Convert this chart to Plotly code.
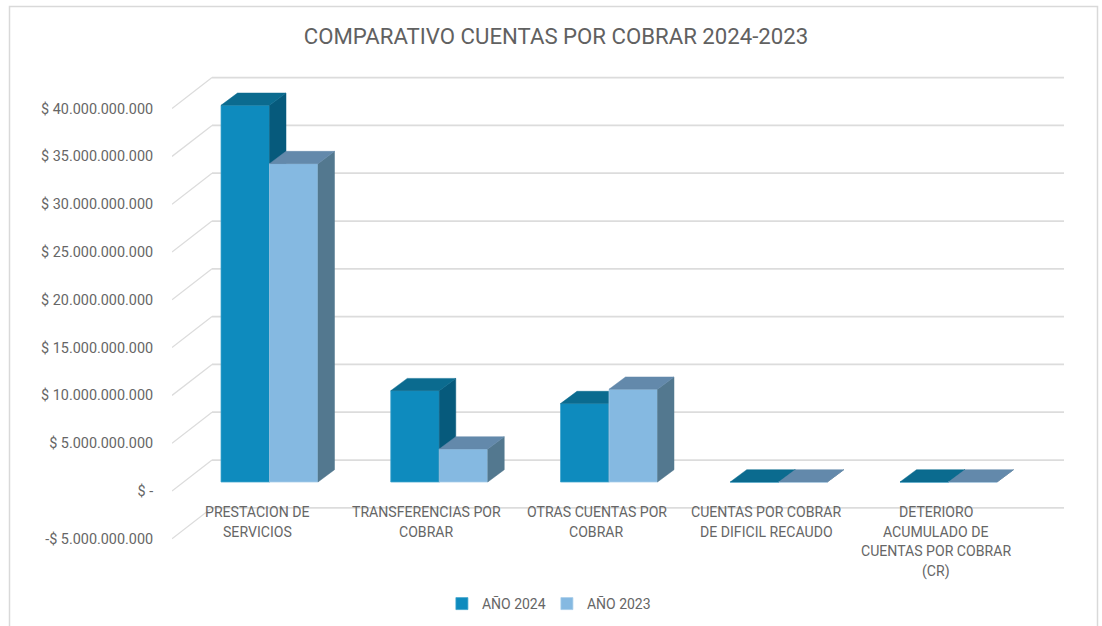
import plotly.graph_objects as go

# ---------- data ----------
TITLE = "COMPARATIVO CUENTAS POR COBRAR 2024-2023"
CATEGORY_LINES = [
    ["PRESTACION DE", "SERVICIOS"],
    ["TRANSFERENCIAS POR", "COBRAR"],
    ["OTRAS CUENTAS POR", "COBRAR"],
    ["CUENTAS POR COBRAR", "DE DIFICIL RECAUDO"],
    ["DETERIORO", "ACUMULADO DE", "CUENTAS POR COBRAR", "(CR)"],
]
VALUES_2024 = [39400000000, 9550000000, 8200000000, 0, 0]
VALUES_2023 = [33300000000, 3450000000, 9700000000, 0, 0]
TICK_VALUES = [-5000000000, 0, 5000000000, 10000000000, 15000000000, 20000000000,
               25000000000, 30000000000, 35000000000, 40000000000]
TICK_LABELS = ["-$ 5.000.000.000", "$ -", "$ 5.000.000.000", "$ 10.000.000.000",
               "$ 15.000.000.000", "$ 20.000.000.000", "$ 25.000.000.000",
               "$ 30.000.000.000", "$ 35.000.000.000", "$ 40.000.000.000"]

# ---------- geometry / style ----------
W, H = 1102, 626
FONT = "Roboto"
TEXT = "#666666"
GRID = "#DCDCDC"
PX_PER_CAT = 169.75
PX_PER_USD = 47.8 / 5e9
PLOT_L, PLOT_R, PLOT_T, PLOT_B = 172, 1064, 70, 545
ZERO_PX = 491
CAT0_PX = 257

def xpx(px):
    return (px - CAT0_PX) / PX_PER_CAT

def ypx(px):
    return (ZERO_PX - px) / PX_PER_USD

X_RANGE = [xpx(PLOT_L), xpx(PLOT_R)]
Y_RANGE = [ypx(PLOT_B), ypx(PLOT_T)]
WALL_DX, WALL_DY = 40 / PX_PER_CAT, 31 / PX_PER_USD
BAR_DX, BAR_DY = 16.5 / PX_PER_CAT, 12.3 / PX_PER_USD
BAR_LIFT = 9 / PX_PER_USD
BAR_W = 48.5 / PX_PER_CAT
GROUP_SHIFT = 12.5 / PX_PER_CAT

fig = go.Figure()

def add_series(name, values, left_offset, front, edge, top, side, xa, ya):
    n = len(values)
    lefts = [i + GROUP_SHIFT + left_offset for i in range(n)]
    fig.add_trace(go.Bar(
        name=name, x=[l + BAR_W / 2 for l in lefts], y=values, base=[BAR_LIFT] * n,
        width=BAR_W, marker=dict(color=front, line=dict(color=edge, width=0.75)),
        xaxis=xa, yaxis=ya, hoverinfo="skip",
    ))
    sx, sy, tx, ty = [], [], [], []
    for l, v in zip(lefts, values):
        r = l + BAR_W
        b, t = BAR_LIFT, BAR_LIFT + v
        sx += [r, r, r + BAR_DX, r + BAR_DX, r, None]
        sy += [b, t, t + BAR_DY, b + BAR_DY, b, None]
        tx += [l, r, r + BAR_DX, l + BAR_DX, l, None]
        ty += [t, t, t + BAR_DY, t + BAR_DY, t, None]
    for px_, py_, col in ((sx, sy, side), (tx, ty, top)):
        fig.add_trace(go.Scatter(
            x=px_, y=py_, mode="lines", fill="toself", fillcolor=col,
            line=dict(color=col, width=0.5), xaxis=xa, yaxis=ya,
            showlegend=False, hoverinfo="skip",
        ))

add_series("AÑO 2024", VALUES_2024, -BAR_W, "#0E8BBE", "#3FA3CC", "#0B6B8F", "#065A7C", "x", "y")
add_series("AÑO 2023", VALUES_2023, 0, "#85B9E1", "#A5CCEA", "#6389AB", "#53788F", "x2", "y2")

# back wall + side wall grid, placed from the axis ticks
shapes = [dict(type="rect", xref="paper", yref="paper", x0=9.5 / W, x1=1097.5 / W,
               y0=-0.02, y1=1 - 6.5 / H, line=dict(color="#D9D9D9", width=1.5),
               fillcolor="white", layer="below")]
for v in TICK_VALUES:
    x_front = X_RANGE[0]
    x_back = x_front + WALL_DX
    shapes.append(dict(type="line", xref="x", yref="y", x0=x_front, y0=v, x1=x_back,
                       y1=v + WALL_DY, line=dict(color=GRID, width=1.25), layer="below"))
    shapes.append(dict(type="line", xref="x", yref="y", x0=x_back, y0=v + WALL_DY,
                       x1=X_RANGE[1], y1=v + WALL_DY, line=dict(color=GRID, width=1.75),
                       layer="below"))

annotations = []
for i, lines in enumerate(CATEGORY_LINES):
    for k, line in enumerate(lines):
        annotations.append(dict(
            text=line, x=i, y=0, xref="x", yref="y", xanchor="center", yanchor="middle",
            yshift=-(21 + 19.7 * k), showarrow=False,
            font=dict(family=FONT, size=14.1, color=TEXT),
        ))

fig.update_layout(
    width=W, height=H, autosize=False,
    margin=dict(l=0, r=0, t=0, b=0, pad=0, autoexpand=False),
    paper_bgcolor="white", plot_bgcolor="rgba(0,0,0,0)",
    barmode="overlay",
    title=dict(text=TITLE, x=556 / W, xanchor="center", y=1 - 36 / H, yanchor="middle",
               font=dict(family=FONT, size=22.2, color="#616161")),
    xaxis=dict(domain=[PLOT_L / W, PLOT_R / W], range=X_RANGE, showgrid=False, zeroline=False,
               showline=False, showticklabels=False, ticks=""),
    yaxis=dict(domain=[1 - PLOT_B / H, 1 - PLOT_T / H], range=Y_RANGE, showgrid=False,
               zeroline=False, showline=False, tickmode="array", tickvals=TICK_VALUES,
               ticktext=TICK_LABELS, ticks="outside", ticklen=15, tickcolor="rgba(0,0,0,0)",
               tickfont=dict(family=FONT, size=14.4, color=TEXT)),
    xaxis2=dict(domain=[PLOT_L / W, PLOT_R / W], range=X_RANGE, overlaying="x", anchor="y2",
                visible=False),
    yaxis2=dict(domain=[1 - PLOT_B / H, 1 - PLOT_T / H], range=Y_RANGE, overlaying="y",
                anchor="x2", visible=False),
    legend=dict(orientation="h", x=0.401, xanchor="left", y=1 - 604 / H, yanchor="middle",
                entrywidth=60, entrywidthmode="pixels",
                font=dict(family=FONT, size=14, color=TEXT), bgcolor="rgba(0,0,0,0)"),
    shapes=shapes, annotations=annotations,
)

fig.write_html("out.html", config={"displayModeBar": False},
               post_script="document.body.style.margin='0';document.documentElement.style.overflow='hidden';")
